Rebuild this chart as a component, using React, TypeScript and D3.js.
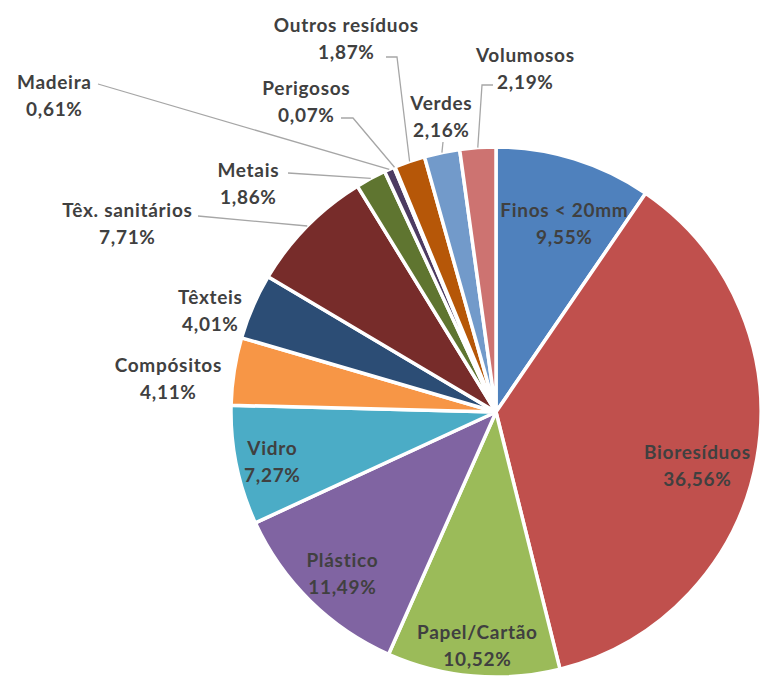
import React, { useEffect, useRef } from "react";
import * as d3 from "d3";

// composition of collected waste (%), clockwise from 12 o'clock
const categories = [
  "Finos < 20mm",
  "Bioresíduos",
  "Papel/Cartão",
  "Plástico",
  "Vidro",
  "Compósitos",
  "Têxteis",
  "Têx. sanitários",
  "Metais",
  "Madeira",
  "Perigosos",
  "Outros resíduos",
  "Verdes",
  "Volumosos",
];
const shares = [9.55, 36.56, 10.52, 11.49, 7.27, 4.11, 4.01, 7.71, 1.86, 0.61, 0.07, 1.87, 2.16, 2.19];
const shareLabels = ["9,55%", "36,56%", "10,52%", "11,49%", "7,27%", "4,11%", "4,01%", "7,71%", "1,86%", "0,61%", "0,07%", "1,87%", "2,16%", "2,19%"];
const colors = [
  "#4F81BD", "#C0504D", "#9BBB59", "#8064A2", "#4BACC6", "#F79646", "#2C4D75",
  "#772C2A", "#5F7530", "#4D3B62", "#276A7C", "#B65708", "#729ACA", "#CD7371",
];

// label placement (centre of the name line), leader start/elbow if any
const labelLayout: Record<string, { x: number; y: number; leader?: [number, number][] }> = {
  "Finos < 20mm": { x: 564, y: 210 },
  "Bioresíduos": { x: 697, y: 452 },
  "Papel/Cartão": { x: 477, y: 632 },
  "Plástico": { x: 342, y: 560 },
  "Vidro": { x: 272, y: 448 },
  "Compósitos": { x: 168, y: 365 },
  "Têxteis": { x: 210, y: 297 },
  "Têx. sanitários": { x: 127, y: 210, leader: [[198, 216]] },
  "Metais": { x: 248, y: 170, leader: [[288, 173]] },
  "Madeira": { x: 54, y: 82, leader: [[98, 84]] },
  "Perigosos": { x: 306, y: 88, leader: [[341, 118], [353, 118]] },
  "Outros resíduos": { x: 346, y: 25, leader: [[386, 57], [397, 57]] },
  "Verdes": { x: 441, y: 103, leader: [[443, 142]] },
  "Volumosos": { x: 525, y: 55, leader: [[493, 85], [482, 85]] },
};

const W = 762;
const H = 681;
const cx = 496;
const cy = 412;
const radius = 265;
const lineGap = 27;
const spacing = 0.7;

export default function App() {
  const ref = useRef<SVGSVGElement | null>(null);

  useEffect(() => {
    if (!ref.current) return;
    const svg = d3.select(ref.current);
    svg.selectAll("*").remove();

    const data = categories.map((name, i) => ({ name, value: shares[i], label: shareLabels[i], color: colors[i] }));
    const pie = d3.pie<any>().sort(null).value((d) => d.value);
    const arcs = pie(data);
    const arc = d3.arc<any>().innerRadius(0).outerRadius(radius);
    const edge = d3.arc<any>().innerRadius(radius).outerRadius(radius);

    const g = svg.append("g").attr("transform", `translate(${cx},${cy})`);
    g.selectAll("path.slice")
      .data(arcs)
      .enter()
      .append("path")
      .attr("class", "slice")
      .attr("d", arc)
      .attr("fill", (d) => d.data.color)
      .attr("stroke", "#fff")
      .attr("stroke-width", 3.5)
      .attr("stroke-linejoin", "round");

    // leader lines
    const line = d3.line();
    arcs.forEach((d) => {
      const lay = labelLayout[d.data.name];
      if (!lay.leader) return;
      const [ex, ey] = edge.centroid(d);
      const pts: [number, number][] = [...lay.leader, [ex + cx, ey + cy]];
      svg
        .append("path")
        .attr("d", line(pts))
        .attr("fill", "none")
        .attr("stroke", "#A6A6A6")
        .attr("stroke-width", 1.3);
    });

    const labels = svg
      .selectAll("g.lab")
      .data(arcs)
      .enter()
      .append("g")
      .attr("class", "lab")
      .attr(
        "transform",
        (d) => `translate(${labelLayout[d.data.name].x + spacing / 2},${labelLayout[d.data.name].y})`
      )
      .attr("text-anchor", "middle")
      .attr("font-family", "Lato, 'Open Sans', sans-serif")
      .attr("font-weight", 700)
      .attr("font-size", 19)
      .attr("letter-spacing", spacing)
      .attr("fill", "#404040");
    labels.append("text").attr("dy", "0.36em").text((d) => d.data.name);
    labels
      .append("text")
      .attr("y", lineGap)
      .attr("dy", "0.36em")
      .text((d) => d.data.label);
  }, []);

  return (
    <svg
      ref={ref}
      width={W}
      height={H}
      style={{ position: "absolute", left: 0, top: 0, background: "#fff" }}
      role="img"
      aria-label="Composição dos resíduos"
    />
  );
}
